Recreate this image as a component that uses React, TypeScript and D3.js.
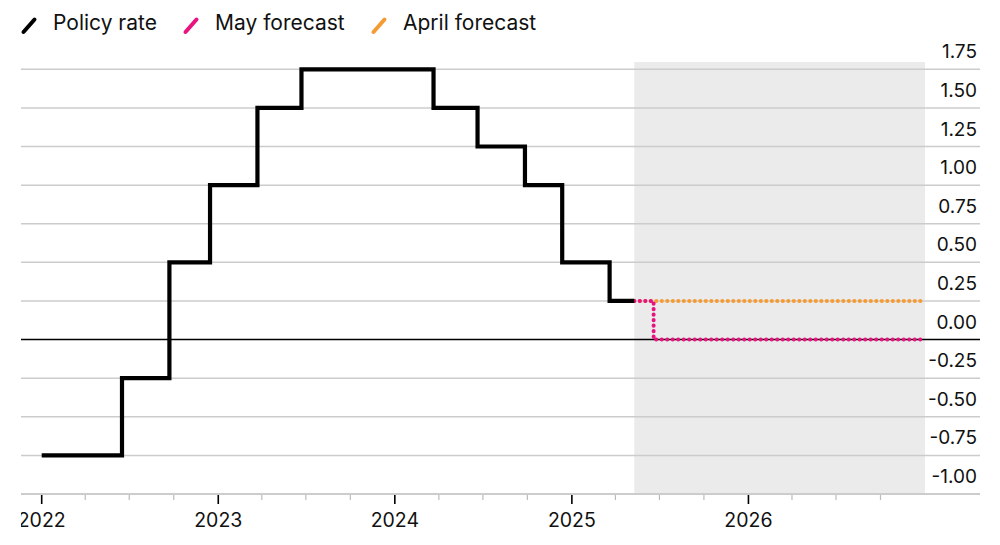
import { useEffect, useRef } from "react";
import * as d3 from "d3";

const policyDates = [
  "2022-01-01", "2022-06-16", "2022-09-22", "2022-12-15", "2023-03-23", "2023-06-22",
  "2024-03-21", "2024-06-20", "2024-09-26", "2024-12-12", "2025-03-20", "2025-05-10",
];
const policyValues = [-0.75, -0.25, 0.5, 1.0, 1.5, 1.75, 1.5, 1.25, 1.0, 0.5, 0.25, 0.25];

const mayDates = ["2025-05-10", "2025-06-19", "2026-12-31"];
const mayValues = [0.25, 0, 0];

const aprilDates = ["2025-05-10", "2026-12-31"];
const aprilValues = [0.25, 0.25];

const forecastPeriod = ["2025-05-10", "2027-01-01"];
const yTicks = [1.75, 1.5, 1.25, 1.0, 0.75, 0.5, 0.25, 0, -0.25, -0.5, -0.75, -1.0];
const yearTicks = ["2022", "2023", "2024", "2025", "2026"];

const legendItems = [
  { label: "Policy rate", color: "#000000" },
  { label: "May forecast", color: "#e8137f" },
  { label: "April forecast", color: "#f49b33" },
];

const FONT = "Inter, 'Liberation Sans', Arial, sans-serif";

const App = () => {
  const ref = useRef<SVGSVGElement>(null);

  useEffect(() => {
    if (!ref.current) return;
    const svg = d3.select(ref.current);
    svg.selectAll("*").remove();

    const parse = d3.timeParse("%Y-%m-%d");
    const x = d3
      .scaleTime()
      .domain([parse("2022-01-01")!, parse("2027-01-01")!])
      .range([41.7, 925]);
    const y = d3.scaleLinear().domain([-1, 1.75]).range([494, 69.3]);

    const left = 21;
    const right = 980;

    // forecast shading
    svg
      .append("rect")
      .attr("x", x(parse(forecastPeriod[0])!))
      .attr("y", 62)
      .attr("width", x(parse(forecastPeriod[1])!) - x(parse(forecastPeriod[0])!))
      .attr("height", 494 - 62)
      .attr("fill", "#ebebeb");

    // gridlines
    svg
      .append("g")
      .selectAll("line")
      .data(yTicks)
      .enter()
      .append("line")
      .attr("x1", left)
      .attr("x2", right)
      .attr("y1", (d) => y(d))
      .attr("y2", (d) => y(d))
      .attr("stroke", (d) => (d === 0 ? "#000" : "#cccccc"))
      .attr("stroke-width", (d) => (d === 0 ? 1.4 : d === -1 ? 2 : 1.5));

    // y labels (above their gridlines)
    svg
      .append("g")
      .selectAll("text")
      .data(yTicks)
      .enter()
      .append("text")
      .attr("x", 977)
      .attr("y", (d) => y(d) - 11)
      .attr("text-anchor", "end")
      .attr("font-family", FONT)
      .attr("font-size", 19)
      .attr("fill", "#111")
      .text((d) => d3.format(".2f")(d).replace("−", "-"));

    // x ticks: quarterly minor, yearly major
    const quarters = d3.timeMonth.every(3)!.range(parse("2022-01-01")!, parse("2027-01-01")!);
    svg
      .append("g")
      .selectAll("line")
      .data(quarters)
      .enter()
      .append("line")
      .attr("x1", (d) => x(d))
      .attr("x2", (d) => x(d))
      .attr("y1", 495)
      .attr("y2", (d) => (d.getMonth() === 0 ? 504 : 500))
      .attr("stroke", (d) => (d.getMonth() === 0 ? "#000" : "#bbbbbb"))
      .attr("stroke-width", (d) => (d.getMonth() === 0 ? 1.6 : 1.2));

    svg
      .append("defs")
      .append("clipPath")
      .attr("id", "xclip")
      .append("rect")
      .attr("x", left)
      .attr("y", 500)
      .attr("width", 1000)
      .attr("height", 45);

    svg
      .append("g")
      .attr("clip-path", "url(#xclip)")
      .selectAll("text")
      .data(yearTicks)
      .enter()
      .append("text")
      .attr("x", (d) => x(parse(`${d}-01-01`)!))
      .attr("y", 527)
      .attr("text-anchor", "middle")
      .attr("font-family", FONT)
      .attr("font-size", 19.5)
      .attr("fill", "#111")
      .text((d) => d);

    const line = (dates: string[], values: number[], curve: d3.CurveFactory) =>
      d3
        .line<number>()
        .x((_, i) => x(parse(dates[i])!))
        .y((v) => y(v))
        .curve(curve)(values);

    // April forecast
    svg
      .append("path")
      .attr("d", line(aprilDates, aprilValues, d3.curveStepAfter))
      .attr("fill", "none")
      .attr("stroke", legendItems[2].color)
      .attr("stroke-width", 4)
      .attr("stroke-linecap", "round")
      .attr("stroke-dasharray", "0.1 5.4");

    // May forecast
    svg
      .append("path")
      .attr("d", line(mayDates, mayValues, d3.curveStepAfter))
      .attr("fill", "none")
      .attr("stroke", legendItems[1].color)
      .attr("stroke-width", 4)
      .attr("stroke-linecap", "round")
      .attr("stroke-dasharray", "0.1 5.4");

    // Policy rate
    svg
      .append("path")
      .attr("d", line(policyDates, policyValues, d3.curveStepAfter))
      .attr("fill", "none")
      .attr("stroke", "#000")
      .attr("stroke-width", 4.2)
      .attr("stroke-linejoin", "miter");

    // legend
    const legendX = [23, 185, 373];
    const lg = svg
      .append("g")
      .selectAll("g")
      .data(legendItems)
      .enter()
      .append("g")
      .attr("transform", (_, i) => `translate(${legendX[i]},0)`);
    lg.append("line")
      .attr("x1", 0.5)
      .attr("y1", 32)
      .attr("x2", 11.5)
      .attr("y2", 19.5)
      .attr("stroke", (d) => d.color)
      .attr("stroke-width", 4)
      .attr("stroke-linecap", "round");
    lg.append("text")
      .attr("x", 30)
      .attr("y", 30)
      .attr("font-family", FONT)
      .attr("font-size", 21)
      .attr("fill", "#111")
      .text((d) => d.label);
  }, []);

  return (
    <svg
      ref={ref}
      width={1000}
      height={545}
      style={{ position: "absolute", left: 0, top: 0, background: "#fff" }}
    />
  );
};

export default App;
